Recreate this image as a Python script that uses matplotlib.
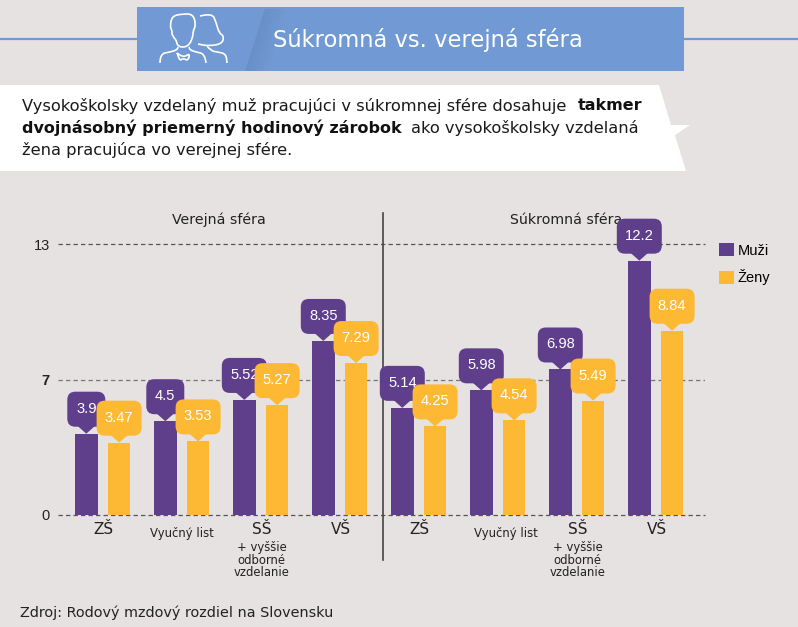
#Slovak wage gap chart, public vs private sector
import matplotlib
matplotlib.use('Agg')
import matplotlib.pyplot as plt
from matplotlib.patches import FancyBboxPatch, Polygon, PathPatch, Patch
from matplotlib.path import Path
from matplotlib.transforms import Affine2D

categories = ['ZŠ', 'Vyučný list', 'SŠ', 'VŠ', 'ZŠ', 'Vyučný list', 'SŠ', 'VŠ']
muzi = [3.9, 4.5, 5.52, 8.35, 5.14, 5.98, 6.98, 12.2]
zeny = [3.47, 3.53, 5.27, 7.29, 4.25, 4.54, 5.49, 8.84]
y_ticks = [0, 6.5, 13]
y_labels = ['0', '7', '13']
series_names = ['Muži', 'Ženy']

BG = '#E6E2E1'
BLUE = '#7199D3'
PURPLE = '#5F3F8C'
YELLOW = '#FDB933'
W, H = 798, 627

fig = plt.figure(figsize=(W / 100, H / 100), dpi=100, facecolor=BG)

# decoration layer, in image pixels
bg = fig.add_axes([0, 0, 1, 1])
bg.set_xlim(0, W)
bg.set_ylim(H, 0)
bg.axis('off')
bg.plot([0, W], [39, 39], color=BLUE, lw=1.6, zorder=1)
bg.add_patch(Polygon([(137, 7), (684, 7), (684, 71), (137, 71)], fc=BLUE, ec='none', zorder=2))
# soft dark wedge in the banner
for i in range(14):
    bg.add_patch(Polygon([(245 + i * 1.6, 71), (265 + i * 1.6, 9), (265 + (i + 1) * 1.6, 9), (245 + (i + 1) * 1.6, 71)],
                         fc='#4F6F9F', ec='none', alpha=0.22 * (1 - i / 14), zorder=3))
bg.text(273, 39.5, 'Súkromná vs. verejná sféra', color='white', fontsize=16.3, va='center', ha='left', zorder=4)


def smooth(pts):
    # quadratic curve through the midpoints, corners act as control points
    verts = [pts[0]]
    codes = [Path.MOVETO]
    for a, b in zip(pts[1:-1], pts[2:]):
        verts += [a, ((a[0] + b[0]) / 2, (a[1] + b[1]) / 2)]
        codes += [Path.CURVE3, Path.CURVE3]
    verts.append(pts[-1])
    codes.append(Path.LINETO)
    bg.add_patch(PathPatch(Path(verts, codes), fc='none', ec='white', lw=1.2, zorder=4))


# people icon
smooth([(176, 40), (172, 36), (172, 30), (170, 27), (172, 16), (182, 14), (193, 14), (196, 25), (193, 31), (193, 37),
        (188, 47), (178, 47), (176, 40)])
smooth([(160, 63), (160, 54), (170, 52), (177, 50), (178, 47)])
smooth([(206, 63), (205, 54), (196, 52), (190, 50), (189, 47)])
smooth([(177, 53), (183, 58), (190, 53), (188, 61), (183, 58), (180, 61), (177, 53)])
smooth([(200, 16), (212, 13), (216, 22), (219, 33), (224, 36), (222, 44), (208, 46), (198, 44)])
smooth([(207, 46), (211, 51), (218, 52), (226, 54), (227, 63)])

# white text ribbon
bg.add_patch(Polygon([(0, 85), (659, 85), (671, 125), (690, 125), (675, 135), (686, 171), (0, 171)],
                     fc='white', ec='none', zorder=2))
ts = 11.72
tb = 11.55
bg.text(22, 106, 'Vysokoškolsky vzdelaný muž pracujúci v súkromnej sfére dosahuje', fontsize=ts, va='center', color='#1a1a1a', zorder=3)
bg.text(578, 106, 'takmer', fontsize=tb, va='center', weight='bold', color='#111111', zorder=3)
bg.text(22, 128, 'dvojnásobný priemerný hodinový zárobok', fontsize=tb, va='center', weight='bold', color='#111111', zorder=3)
bg.text(411, 128, 'ako vysokoškolsky vzdelaná', fontsize=ts, va='center', color='#1a1a1a', zorder=3)
bg.text(22, 150, 'žena pracujúca vo verejnej sfére.', fontsize=ts, va='center', color='#1a1a1a', zorder=3)

bg.text(20, 613, 'Zdroj: Rodový mzdový rozdiel na Slovensku', fontsize=10.35, va='center', color='#222222')
bg.text(219, 220, 'Verejná sféra', fontsize=10.2, ha='center', va='center', color='#222222')
bg.text(566, 220, 'Súkromná sféra', fontsize=10.2, ha='center', va='center', color='#222222')

# chart: group i centred at 102.7 + 79 i px, zero at 515 px, 13 at 244 px
ax = fig.add_axes([58 / W, 1 - 515 / H, (705 - 58) / W, (515 - 244) / H])
ax.patch.set_alpha(0)
ax.set_xlim((58 - 102.7) / 79, (705 - 102.7) / 79)
ax.set_ylim(0, 13)
for s in ax.spines.values():
    s.set_visible(False)
ax.set_xticks([])
ax.set_yticks(y_ticks)
ax.set_yticklabels(y_labels, fontsize=10.5, color='#222222', family='Liberation Sans')
ax.get_yticklabels()[1].set_fontweight('bold')
ax.tick_params(axis='y', length=0, pad=6)
ax.set_axisbelow(True)
ax.grid(axis='y', color='#555555', lw=0.9, ls=(0, (3.5, 2.5)))
ax.get_ygridlines()[0].set_clip_on(False)
ax.get_ygridlines()[1].set_color('#777777')
ax.get_ygridlines()[2].set_clip_on(False)

xs = list(range(len(categories)))
bw = 22.7 / 79
off = 16.4 / 79
ax.bar([x - off for x in xs], muzi, bw, color=PURPLE, zorder=3)
ax.bar([x + off for x in xs], zeny, bw, color=YELLOW, zorder=3)

ax.plot([(383 - 102.7) / 79] * 2, [(515 - 560) / 20.85, (515 - 213) / 20.85], color='#444444', lw=1.2, clip_on=False, zorder=2)


def callout(x, v, color, z):
    label = str(v)
    w = 38 if len(label) == 3 else 45
    h = 35
    px, py = ax.transData.transform((x, v))
    tr = Affine2D().translate(px, py)
    ax.add_patch(FancyBboxPatch((-w / 2, 7), w, h, boxstyle='round,pad=0,rounding_size=8', fc=color, ec='none',
                                transform=tr, clip_on=False, zorder=z))
    ax.add_patch(Polygon([(-9, 8), (9, 8), (0, 0)], fc=color, ec='none', transform=tr, clip_on=False, zorder=z))
    ax.annotate(label, (x, v), xytext=(0, 25), textcoords='offset pixels', ha='center', va='center', color='white',
                fontsize=10.6, family='Liberation Sans', zorder=z + 0.5, annotation_clip=False)


for i in xs:
    callout(i - off, muzi[i], PURPLE, 4 + i)
    callout(i + off, zeny[i], YELLOW, 4.7 + i)

# category labels under the axis
for i, name in enumerate(categories):
    small = name == 'Vyučný list'
    dx = 8 if i == 5 else 0 if small else 1
    ax.annotate(name, (i, 0), xytext=(dx, -19 if small else -15), textcoords='offset pixels', ha='center', va='center',
                fontsize=8.4 if small else 11, color='#222222', annotation_clip=False)
    if name == 'SŠ':
        ax.annotate('+ vyššie\nodborné\nvzdelanie', (i, 0), xytext=(1, -45), textcoords='offset pixels', ha='center',
                    va='center', fontsize=8.4, linespacing=0.98, color='#222222', annotation_clip=False)

handles = [Patch(fc=PURPLE, ec='none'), Patch(fc=YELLOW, ec='none')]
leg = fig.legend(handles, series_names, loc='upper left', bbox_to_anchor=(719 / W, 1 - 243 / H), frameon=False,
                 handlelength=1.0, handleheight=1.0, handletextpad=0.27, labelspacing=0.8, borderpad=0, borderaxespad=0,
                 prop={'family': 'Liberation Sans', 'size': 10.5})

fig.savefig('out.png', dpi=100, facecolor=BG)
